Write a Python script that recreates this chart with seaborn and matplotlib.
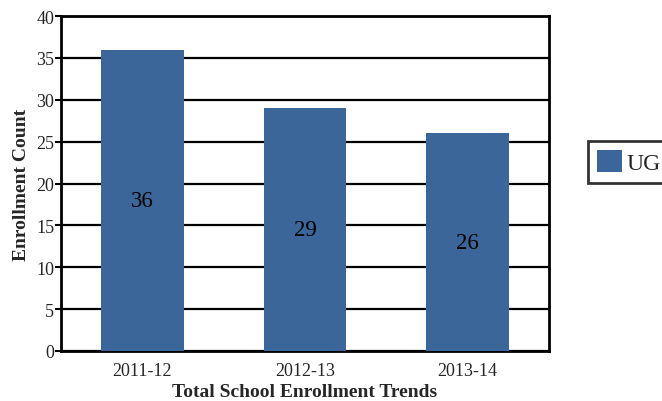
import matplotlib
matplotlib.use("Agg")
import matplotlib.pyplot as plt
import seaborn as sns
import pandas as pd
from matplotlib.patches import Patch

categories = ["2011-12", "2012-13", "2013-14"]
ug_values = [36, 29, 26]
y_ticks = [0, 5, 10, 15, 20, 25, 30, 35, 40]

sns.set_theme(style="white")
plt.rcParams['font.family'] = ['Liberation Serif', 'DejaVu Serif']

df = pd.DataFrame({"Year": categories, "Count": ug_values, "Series": ["UG"] * 3})

fig = plt.figure(figsize=(6.62, 4.02), dpi=100)
ax = fig.add_axes([61/662, 1 - 352/402, (549 - 61)/662, (352 - 17)/402])

sns.barplot(data=df, x="Year", y="Count", hue="Series", palette=["#3A6699"],
            width=0.51, ax=ax, saturation=1, legend=False, zorder=3,
            edgecolor="none", linewidth=0)

ax.set_ylim(0, 40)
ax.set_xlim(-0.5, 2.5)
ax.set_yticks(y_ticks)
ax.set_yticklabels([str(t) for t in y_ticks], fontsize=13)
ax.set_xticks(range(len(categories)))
ax.set_xticklabels(categories, fontsize=13)
ax.yaxis.grid(True, color="black", linewidth=1.6, zorder=0)
ax.set_axisbelow(True)
for s in ax.spines.values():
    s.set_color("black")
    s.set_linewidth(2)
ax.tick_params(axis="y", which="major", left=True, length=4, width=1.5, color="black", pad=1)
ax.tick_params(axis="x", bottom=False, pad=2)

ax.set_ylabel("Enrollment Count", fontsize=14, fontweight="bold", labelpad=4)
ax.set_xlabel("Total School Enrollment Trends", fontsize=14, fontweight="bold", labelpad=3)

for i, v in enumerate(ug_values):
    ax.text(i, v / 2, str(v), ha="center", va="center", fontsize=16.5, color="black", zorder=5)

handles = [Patch(facecolor="#3A6699", edgecolor="none", label="UG")]
leg = fig.legend(handles=handles, loc="center left", bbox_to_anchor=(588/662, 1 - 163/402),
                 fontsize=17, frameon=True, fancybox=False, handlelength=1.06, handleheight=1.06,
                 handletextpad=0.15, borderpad=0.4, borderaxespad=0)
leg.get_frame().set_edgecolor("black")
leg.get_frame().set_linewidth(2)

fig.savefig("out.png", dpi=100)
